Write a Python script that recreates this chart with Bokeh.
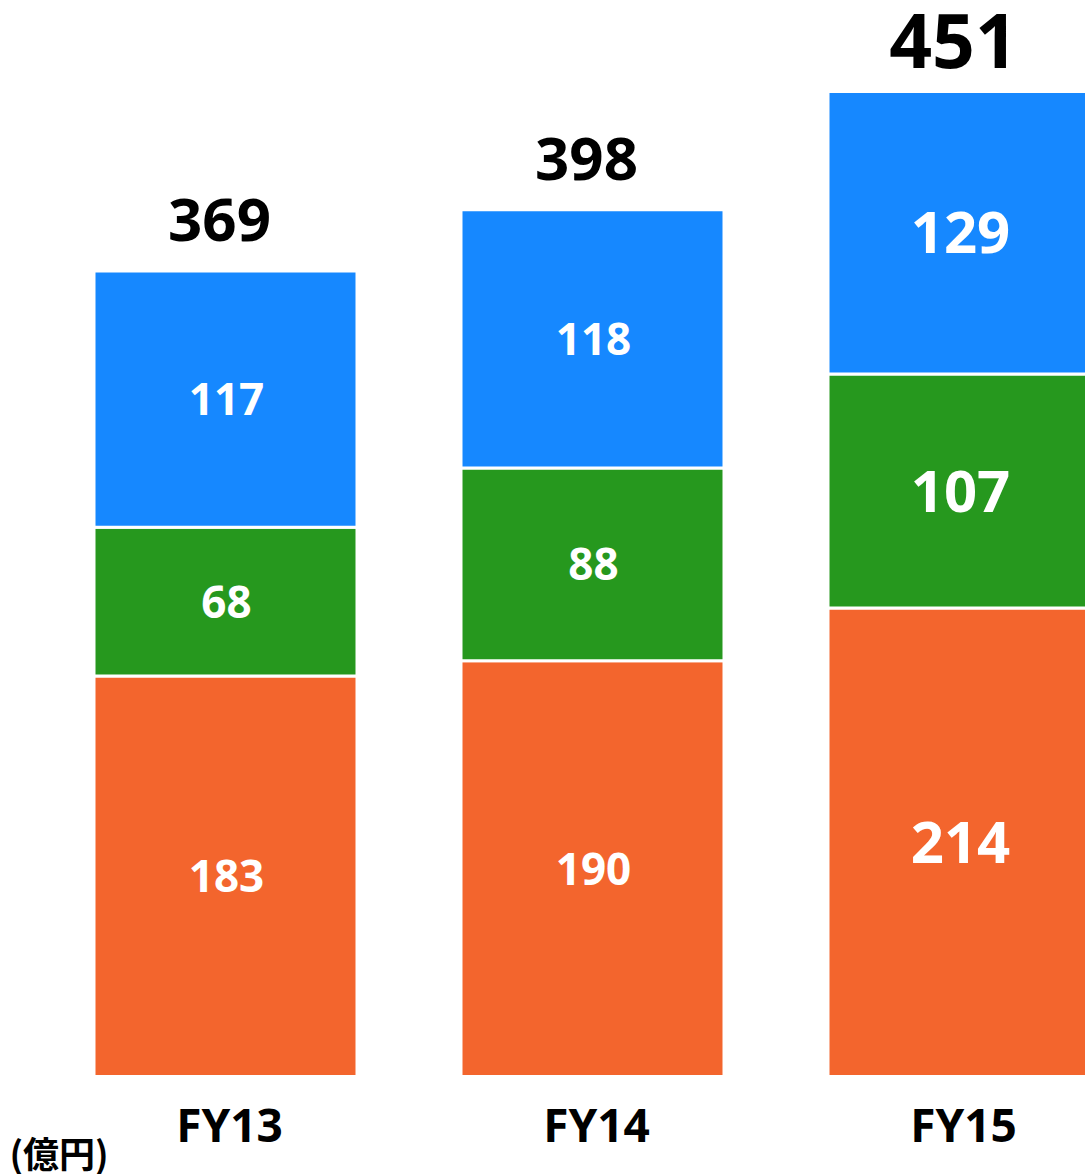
from bokeh.plotting import figure
from bokeh.models import ColumnDataSource, Range1d, Label
from bokeh.core.properties import value
from bokeh.embed import file_html
from bokeh.resources import INLINE

categories = ["FY13", "FY14", "FY15"]
segment_a = [183, 190, 214]   # orange (bottom)
segment_b = [68, 88, 107]     # green (middle)
segment_c = [117, 118, 129]   # blue (top)
totals = [369, 398, 451]
unit_label = "(億円)"

# styles (not data)
inner_sizes = ["44px", "44px", "58px"]
total_sizes = ["60px", "60px", "75px"]
COL_A = "#F3652D"
COL_B = "#26981E"
COL_C = "#1688FF"

xs = list(range(len(categories)))
bottom_b = list(segment_a)
bottom_c = [a + b for a, b in zip(segment_a, segment_b)]
stack_top = [a + b + c for a, b, c in zip(segment_a, segment_b, segment_c)]

src = ColumnDataSource(dict(
    x=xs, a=segment_a, b=segment_b, c=segment_c,
    mid_a=[a / 2 for a in segment_a],
    mid_b=[ba + b / 2 for ba, b in zip(bottom_b, segment_b)],
    mid_c=[bc + c / 2 for bc, c in zip(bottom_c, segment_c)],
    la=[str(v) for v in segment_a],
    lb=[str(v) for v in segment_b],
    lc=[str(v) for v in segment_c],
    top=stack_top,
    total=[str(v) for v in totals],
    cat=categories,
    zero=[0] * len(xs),
    isz=inner_sizes, tsz=total_sizes,
))

W, H = 1086, 1174
PX_PER_UNIT = 2.1887
UNIT_W = 367.0
BASE_PX = 1076.0          # pixel row of the zero line
x_start = -225.0 / UNIT_W
y_start = -(H - BASE_PX) / PX_PER_UNIT

p = figure(
    width=W, height=H,
    x_range=Range1d(x_start, x_start + W / UNIT_W),
    y_range=Range1d(y_start, y_start + H / PX_PER_UNIT),
    output_backend="svg", toolbar_location=None,
    min_border_left=0, min_border_right=0, min_border_top=0, min_border_bottom=0,
    outline_line_color=None, background_fill_color="white", border_fill_color="white",
)
p.xaxis.visible = False
p.yaxis.visible = False
p.xgrid.visible = False
p.ygrid.visible = False

p.vbar_stack(["a", "b", "c"], x="x", width=263 / UNIT_W, source=src,
             color=[COL_A, COL_B, COL_C], line_color="white", line_width=3)

font = value("Noto Sans")
for y, t in (("mid_a", "la"), ("mid_b", "lb"), ("mid_c", "lc")):
    p.text(x="x", y=y, text=t, source=src, text_align="center", text_baseline="middle",
           text_color="white", text_font=font, text_font_style="bold", text_font_size="isz",
           x_offset=1)

p.text(x="x", y="top", text="total", source=src, text_align="center", text_baseline="middle",
       text_color="black", text_font=font, text_font_style="bold", text_font_size="tsz",
       x_offset=-6, y_offset=-51)

# category labels under each bar
p.text(x="x", y="zero", text="cat", source=src, text_align="center", text_baseline="middle",
       text_color="black", text_font=font, text_font_style="bold", text_font_size="46px",
       x_offset=4, y_offset=47)

p.add_layout(Label(x=9, y=23, x_units="screen", y_units="screen", text=unit_label,
                   text_font="Noto Sans CJK JP", text_font_style="bold", text_font_size="36px",
                   text_color="black", text_baseline="middle", text_align="left"))

open("out.html", "w").write(file_html(p, INLINE))
